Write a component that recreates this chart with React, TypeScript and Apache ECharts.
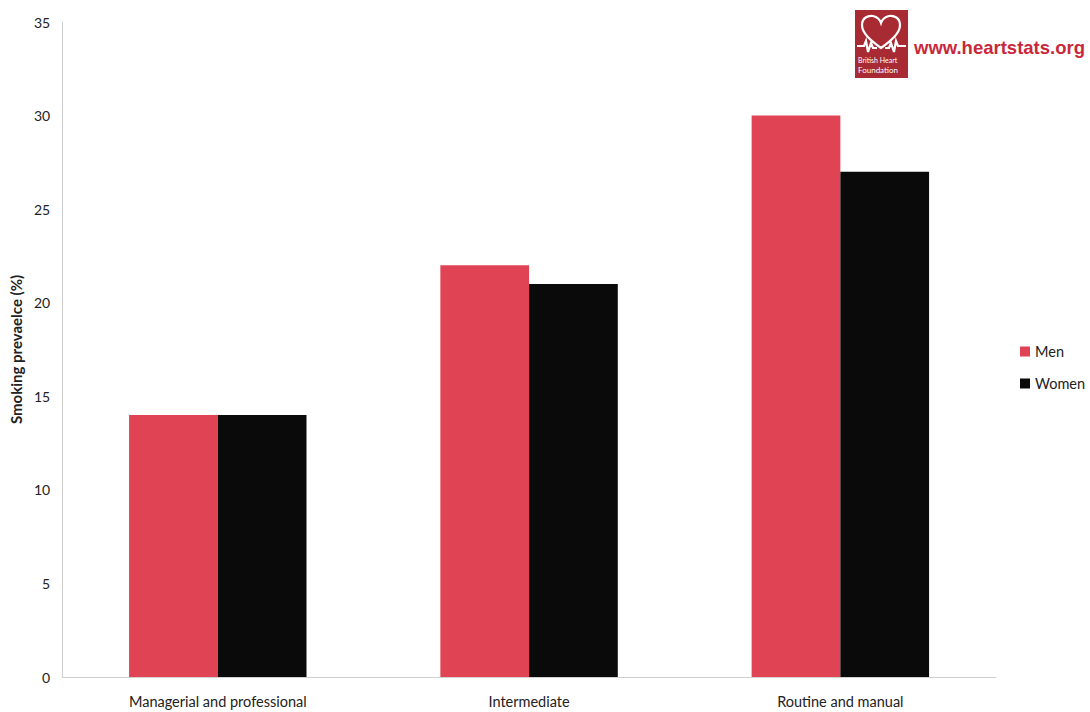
import React, { useEffect, useRef } from "react";
import * as echarts from "echarts";

const categories = ["Managerial and professional", "Intermediate", "Routine and manual"];
const menValues = [14, 22, 30];
const womenValues = [14, 21, 27];
const seriesNames = ["Men", "Women"];

const heartPath =
  "M25 36 C14 28 6 21 6 13 C6 6 12 3 17 4 C21 5 24 8 25 11 C26 8 29 5 33 4 C38 3 44 6 44 13 C44 21 36 28 25 36 Z " +
  "M1 34 L8 34 L10 29 L12 40 L15 31 L17 36 L21 36 M29 36 L33 36 L35 31 L38 40 L40 29 L42 34 L50 34";

export default function App() {
  const ref = useRef<HTMLDivElement>(null);
  useEffect(() => {
    document.body.style.margin = "0";
    echarts.graphic.registerShape("logo", echarts.graphic.extendPath(heartPath, {}) as any);
    const chart = echarts.init(ref.current!, null, { renderer: "svg" });
    const font = "Lato, 'Open Sans', sans-serif";
    chart.setOption({
      animation: false,
      backgroundColor: "#ffffff",
      textStyle: { fontFamily: font },
      grid: { left: 60, right: 94, top: 22, bottom: 35 },
      legend: {
        orient: "vertical",
        left: 1015,
        top: 339,
        itemWidth: 10,
        itemHeight: 10,
        itemGap: 17,
        icon: "rect",
        textStyle: { fontSize: 14.5, color: "#222", fontFamily: font },
        data: seriesNames,
      },
      xAxis: {
        type: "category",
        data: categories,
        axisLine: { lineStyle: { color: "#d0d0d0" } },
        axisTick: { show: false },
        axisLabel: { fontSize: 14.5, color: "#222", margin: 17, fontFamily: font },
      },
      yAxis: {
        type: "value",
        min: 0,
        max: 35,
        interval: 5,
        name: "Smoking prevaelce (%)",
        nameLocation: "middle",
        nameGap: 35,
        nameRotate: 90,
        nameTextStyle: { fontSize: 15, fontWeight: "bold", color: "#222", fontFamily: font },
        axisLine: { show: true, lineStyle: { color: "#d0d0d0" } },
        axisTick: { show: false },
        splitLine: { show: false },
        axisLabel: { fontSize: 14, color: "#222", margin: 12, fontFamily: font },
      },
      series: [
        {
          name: seriesNames[0],
          type: "bar",
          data: menValues,
          itemStyle: { color: "#e04353" },
          barGap: "0%",
          barCategoryGap: "43%",
        },
        {
          name: seriesNames[1],
          type: "bar",
          data: womenValues,
          itemStyle: { color: "#0a0a0a" },
          barGap: "0%",
          barCategoryGap: "43%",
        },
      ],
      graphic: [
        {
          type: "rect",
          shape: { x: 855, y: 10, width: 53, height: 68 },
          style: { fill: "#a82a33" },
        },
        {
          type: "logo",
          x: 856,
          y: 12,
          scaleX: 1,
          scaleY: 1,
          style: { fill: "none", stroke: "#ffffff", lineWidth: 2.2 },
        },
        {
          type: "text",
          x: 858,
          y: 56,
          style: { text: "British Heart", fill: "#ffffff", font: "7px Lato, sans-serif" },
        },
        {
          type: "text",
          x: 858,
          y: 66,
          style: { text: "Foundation", fill: "#ffffff", font: "8px Lato, sans-serif" },
        },
        {
          type: "text",
          x: 914,
          y: 38,
          style: {
            text: "www.heartstats.org",
            fill: "#c8283a",
            font: "bold 18.5px 'Liberation Sans', Arial, sans-serif",
          },
        },
      ],
    });
    return () => chart.dispose();
  }, []);
  return <div ref={ref} style={{ width: 1090, height: 712 }} />;
}
